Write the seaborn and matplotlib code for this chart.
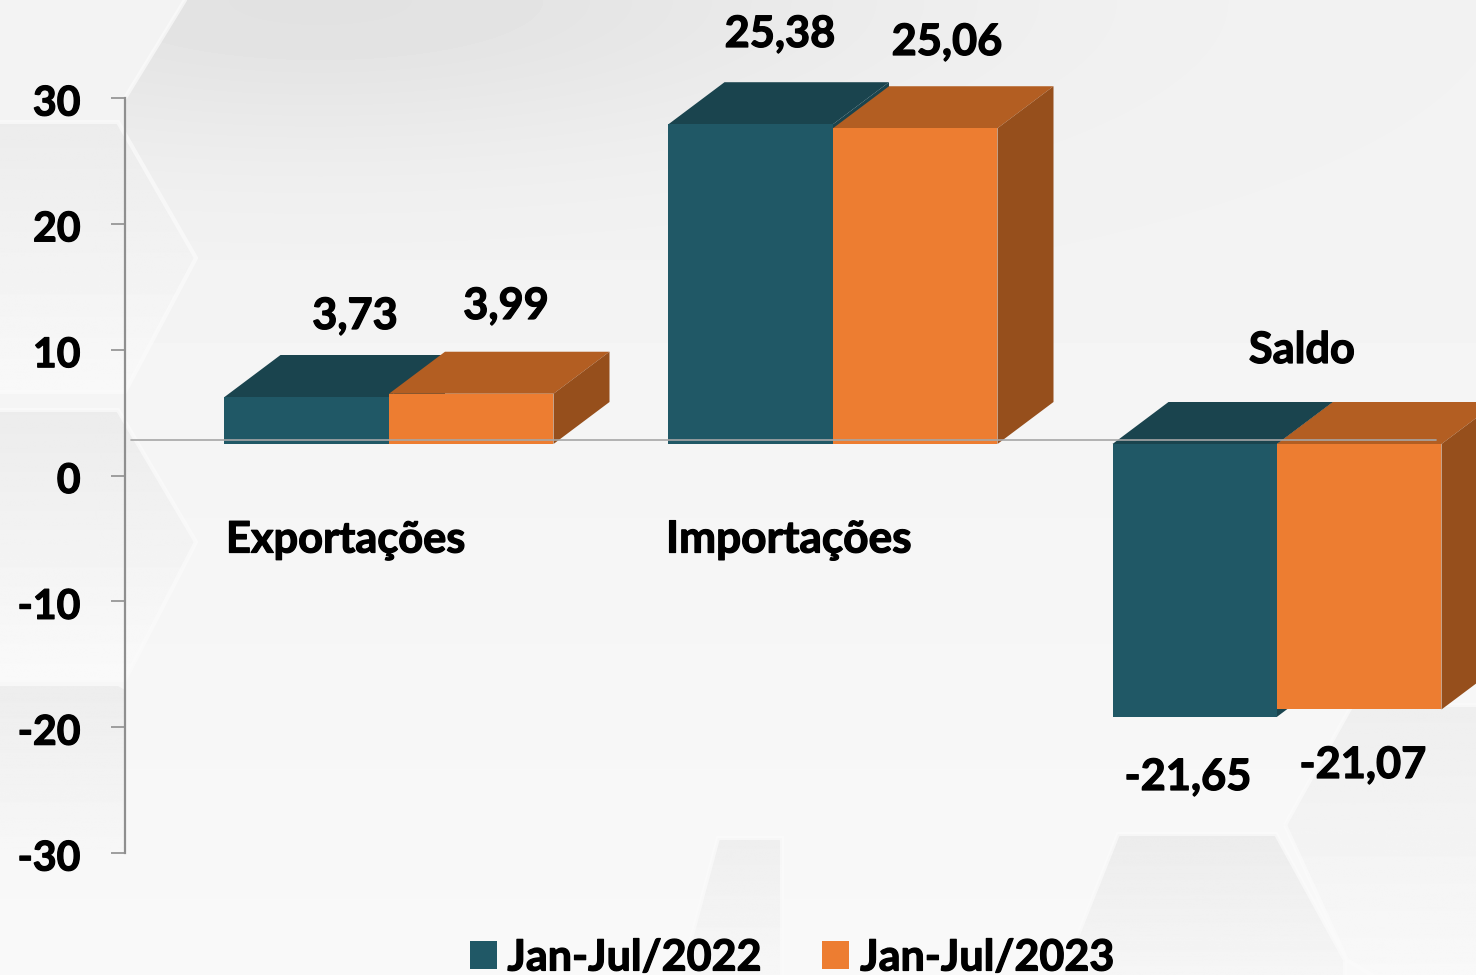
import numpy as np
import pandas as pd
import matplotlib
matplotlib.use("Agg")
import matplotlib.pyplot as plt
import matplotlib.patheffects as pe
from matplotlib.patches import Polygon, Patch
from matplotlib.lines import Line2D
from matplotlib.transforms import ScaledTranslation
import seaborn as sns

categories = ["Exportações", "Importações", "Saldo"]
series_names = ["Jan-Jul/2022", "Jan-Jul/2023"]
values_2022 = [3.73, 25.38, -21.65]
values_2023 = [3.99, 25.06, -21.07]
labels_2022 = ["3,73", "25,38", "-21,65"]
labels_2023 = ["3,99", "25,06", "-21,07"]
y_ticks = [-30, -20, -10, 0, 10, 20, 30]

W, H = 1476, 975
BLUE, BLUE_TOP = "#205866", "#1a444e"
ORANGE, ORANGE_TOP, ORANGE_SIDE = "#ed7d31", "#b35e22", "#964f1c"
FONT = "Lato"
FS = 31.2
FS_TICK = 29.5
WEIGHT = "bold"
BOLDER = [pe.withStroke(linewidth=0.9, foreground="black")]

sns.set_theme(style="white")
plt.rcParams["font.family"] = [FONT, "DejaVu Sans"]
plt.rcParams["font.weight"] = WEIGHT

fig = plt.figure(figsize=(W / 100, H / 100), dpi=100, facecolor="#f7f7f7")

# background decoration, pixel coordinates
bg = fig.add_axes([0, 0, 1, 1], zorder=0)
bg.set_xlim(0, W); bg.set_ylim(H, 0); bg.set_axis_off()
base = np.interp(np.linspace(0, 1, 256), [0, 0.5, 1], [0.95, 0.96, 0.975])[:, None]
bg.imshow(base, extent=(0, W, H, 0), aspect="auto", cmap="gray", vmin=0, vmax=1, zorder=0)

def hexagon(pts, c_top, c_bot, edge=True):
    grad = np.linspace(c_top, c_bot, 256)[:, None]
    xs = [p[0] for p in pts]; ys = [p[1] for p in pts]
    im = bg.imshow(grad, extent=(min(xs), max(xs), max(ys), min(ys)), aspect="auto",
                   cmap="gray", vmin=0, vmax=1, zorder=1)
    poly = Polygon(pts, closed=True, transform=bg.transData, facecolor="none",
                   edgecolor="#fbfbfb" if edge else "none", linewidth=3, alpha=0.7, zorder=2)
    bg.add_patch(poly)
    im.set_clip_path(poly)

# soft shaded region at the top
yy, xx = np.mgrid[0:260, 0:1476]
top_img = 0.95 - 0.065 * np.exp(-((xx - 320) / 560.0) ** 2 - (yy / 150.0) ** 2)
top_im = bg.imshow(top_img, extent=(0, W, 260, 0), aspect="auto", cmap="gray", vmin=0, vmax=1, zorder=1)
top_poly = Polygon([(125, 98), (185, 0), (W, 0), (W, 260), (125, 260)], closed=True,
                   transform=bg.transData, facecolor="none", edgecolor="none")
bg.add_patch(top_poly)
top_im.set_clip_path(top_poly)
bg.plot([125, 185], [98, 0], color="#fbfbfb", lw=3, alpha=0.7, zorder=2)

hexagon([(-5, 122), (118, 122), (196, 258), (125, 392), (-5, 392)], 0.925, 0.975)
hexagon([(-5, 410), (118, 410), (196, 542), (125, 680), (-5, 680)], 0.925, 0.98)
hexagon([(-5, 686), (118, 686), (125, 690), (125, 850), (-5, 850)], 0.93, 0.968, edge=False)
hexagon([(680, 980), (718, 838), (782, 838), (782, 980)], 0.935, 0.97)
hexagon([(1060, 980), (1118, 834), (1276, 834), (1345, 960), (1345, 980)], 0.925, 0.965)
hexagon([(1285, 825), (1352, 705), (1480, 705), (1480, 980), (1380, 980), (1347, 960)], 0.935, 0.975)

# value axis
ax_y = fig.add_axes([125 / W, (H - 853) / H, 1 / W, (853 - 98) / H], zorder=1)
ax_y.patch.set_alpha(0)
ax_y.set_ylim(-30, 30)
ax_y.set_xticks([])
ax_y.set_yticks(y_ticks)
ax_y.set_yticklabels([str(t) for t in y_ticks], fontsize=FS_TICK, fontweight=WEIGHT, color="black")
ax_y.tick_params(axis="y", left=True, length=10, width=1.2, color="#8f8f8f", pad=22)
shift = ScaledTranslation(0, -2.5 / 100, fig.dpi_scale_trans)
for lab in ax_y.get_yticklabels():
    lab.set_transform(lab.get_transform() + shift)
    lab.set_path_effects(BOLDER)
for s in ["top", "right", "bottom"]:
    ax_y.spines[s].set_visible(False)
ax_y.spines["left"].set_visible(True)
ax_y.spines["left"].set_color("#8f8f8f")
ax_y.spines["left"].set_linewidth(1.6)

# bars
ax = fig.add_axes([0, 0, 1, 1], zorder=2)
ax.patch.set_alpha(0)
df = pd.DataFrame({
    "categoria": categories * 2,
    "serie": [series_names[0]] * 3 + [series_names[1]] * 3,
    "valor": values_2022 + values_2023,
})
sns.barplot(data=df, x="categoria", y="valor", hue="serie", ax=ax,
            palette=[BLUE, ORANGE], width=329 / 444, gap=0, saturation=1,
            legend=False, zorder=5, linewidth=0)
PX_X = 444.0
PX_Y = 12.6
BASE = 444
ax.set_xlim(-389 / PX_X, (W - 389) / PX_X)
ax.set_ylim(-(H - BASE) / PX_Y, BASE / PX_Y)
ax.set_axis_off()

dx, dy = 56 / PX_X, 42 / PX_Y
styles = [(BLUE_TOP, BLUE_TOP), (ORANGE_TOP, ORANGE_SIDE)]
for k, (cont, (top_c, side_c)) in enumerate(zip(ax.containers, styles)):
    for bar in cont:
        x0, x1 = bar.get_x(), bar.get_x() + bar.get_width()
        h = bar.get_height()
        hi, lo = max(0, h), min(0, h)
        z = 3 + 2 * k
        bar.set_zorder(z + 1)
        ax.add_patch(Polygon([(x0, hi), (x0 + dx, hi + dy), (x1 + dx, hi + dy), (x1, hi)],
                             facecolor=top_c, edgecolor="none", zorder=z))
        ax.add_patch(Polygon([(x1, hi), (x1 + dx, hi + dy), (x1 + dx, lo + dy), (x1, lo)],
                             facecolor=side_c, edgecolor="none", zorder=z))

def put(x, y, s, ha="center", fs=FS):
    fig.text(x / W, 1 - y / H, s, ha=ha, va="center", fontsize=fs, fontweight=WEIGHT,
             color="black", zorder=10, path_effects=BOLDER)

fig.add_artist(Line2D([131 / W, 1436 / W], [1 - 440 / H] * 2, color="#a6a6a6", lw=1.2, zorder=9))

for (x, y), s in zip([(355, 316), (780, 34), (1188, 777)], labels_2022):
    put(x, y, s)
for (x, y), s in zip([(506, 306), (947, 42), (1363, 765)], labels_2023):
    put(x, y, s)
put(226, 540, categories[0], ha="left")
put(666, 540, categories[1], ha="left", fs=31.8)
put(1302, 350, categories[2])

handles = [Patch(facecolor=BLUE, edgecolor="none"), Patch(facecolor=ORANGE, edgecolor="none")]
leg = fig.legend(handles, series_names, loc="lower left", bbox_to_anchor=(448 / W, -24 / H),
                 ncol=2, frameon=False, handlelength=0.63, handleheight=0.63,
                 handletextpad=0.25, columnspacing=1.42, borderpad=0.0, labelcolor="black",
                 prop={"family": FONT, "weight": WEIGHT, "size": 31})
for t in leg.get_texts():
    t.set_path_effects(BOLDER)
fig.savefig("out.png", dpi=100, facecolor=fig.get_facecolor())
